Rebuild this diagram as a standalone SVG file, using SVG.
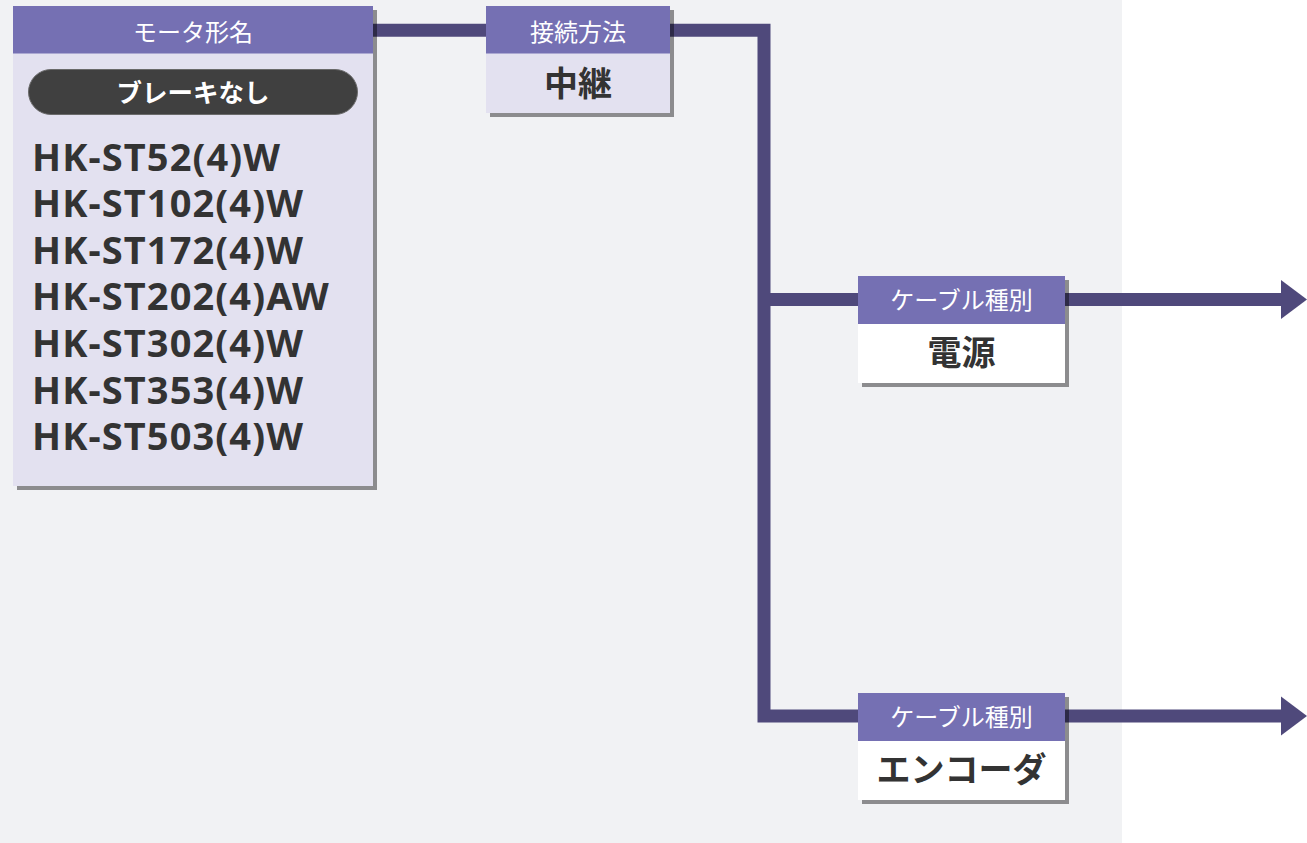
<svg xmlns="http://www.w3.org/2000/svg" width="1307" height="843" viewBox="0 0 1307 843">
<style>
.hdr{fill:#7570B3}
.body{fill:#E3E1F0}
.bodyw{fill:#FFFFFF}
.shadow{fill:#000;fill-opacity:0.42}
.htxt{font-family:"Noto Sans CJK JP","Noto Sans",sans-serif;font-size:24px;fill:#FFFFFF;text-anchor:middle}
.vtxt{font-family:"Noto Sans CJK JP","Noto Sans",sans-serif;font-size:34px;font-weight:700;fill:#333333;text-anchor:middle}
.model{font-family:"Noto Sans","Noto Sans CJK JP",sans-serif;font-size:38px;font-weight:700;fill:#333333;letter-spacing:1.1px}
.conn{fill:none;stroke:#4F497B;stroke-width:13;stroke-linejoin:miter}
.head{fill:#4F497B}
</style>
<rect x="0" y="0" width="1307" height="843" fill="#FFFFFF"/>
<rect x="0" y="0" width="1122" height="843" fill="#F1F2F4"/>
<g id="connectors">
<path class="conn" d="M370,30.3 H490"/>
<path class="conn" d="M666,30.3 H764 V716 H862"/>
<path class="conn" d="M764,299.5 H862"/>
<path class="conn" d="M1062,299.5 H1283"/>
<polygon class="head" points="1281,280 1281,319 1307,299.5"/>
<path class="conn" d="M1062,716 H1283"/>
<polygon class="head" points="1281,696.5 1281,735.5 1307,716"/>
</g>
<g id="motor">
<rect class="shadow" x="17" y="10" width="360" height="480"/>
<rect class="body" x="13" y="6" width="360" height="480"/>
<rect class="hdr" x="13" y="6" width="360" height="47.5"/>
<text class="htxt" x="193" y="41">モータ形名</text>
<rect x="28.5" y="69.5" width="329" height="45" rx="22.5" fill="#404040" stroke="#6a6a6a" stroke-width="1"/>
<text x="193" y="101.5" font-family="'Noto Sans CJK JP','Noto Sans',sans-serif" font-size="25.5" font-weight="700" fill="#FFFFFF" text-anchor="middle">ブレーキなし</text>
<text class="model" x="32" y="170.5">HK-ST52(4)W</text>
<text class="model" x="32" y="217.1">HK-ST102(4)W</text>
<text class="model" x="32" y="263.7">HK-ST172(4)W</text>
<text class="model" x="32" y="310.3">HK-ST202(4)AW</text>
<text class="model" x="32" y="356.9">HK-ST302(4)W</text>
<text class="model" x="32" y="403.5">HK-ST353(4)W</text>
<text class="model" x="32" y="450.1">HK-ST503(4)W</text>
</g>
<g id="connection">
<rect class="shadow" x="490" y="10" width="184" height="107"/>
<rect class="body" x="486" y="6" width="184" height="107"/>
<rect class="hdr" x="486" y="6" width="184" height="47.5"/>
<text class="htxt" x="578" y="41">接続方法</text>
<text class="vtxt" x="578" y="96">中継</text>
</g>
<g id="cable-power">
<rect class="shadow" x="862" y="280" width="207" height="107"/>
<rect class="bodyw" x="858" y="276" width="207" height="107"/>
<rect class="hdr" x="858" y="276" width="207" height="48"/>
<text class="htxt" x="961.5" y="309">ケーブル種別</text>
<text class="vtxt" x="961.5" y="365">電源</text>
</g>
<g id="cable-encoder">
<rect class="shadow" x="862" y="697" width="207" height="107"/>
<rect class="bodyw" x="858" y="693" width="207" height="107"/>
<rect class="hdr" x="858" y="693" width="207" height="48"/>
<text class="htxt" x="961.5" y="726">ケーブル種別</text>
<text class="vtxt" x="961.5" y="782">エンコーダ</text>
</g>
</svg>
